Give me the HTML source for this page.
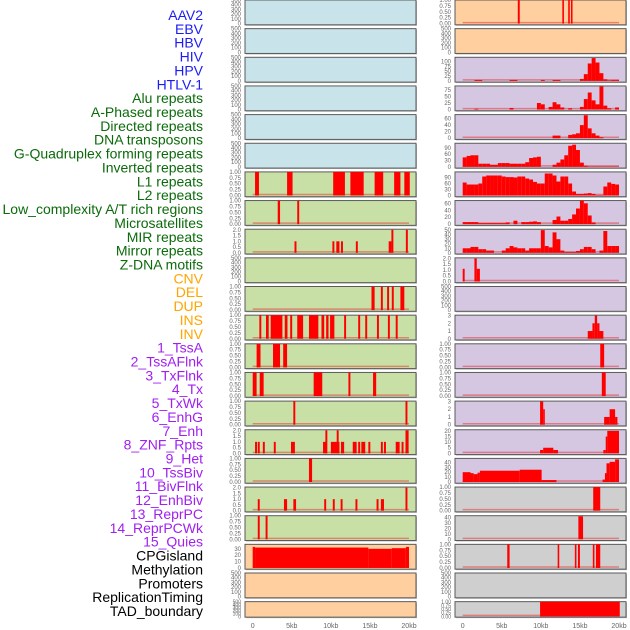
<!DOCTYPE html>
<html><head><meta charset="utf-8">
<style>
html,body{margin:0;padding:0;background:#fff;}
svg{display:block;font-family:"Liberation Sans",sans-serif;}
</style></head>
<body>
<svg id="chart" width="630" height="630" viewBox="0 0 630 630" xmlns="http://www.w3.org/2000/svg"></svg>
<script>
// ---------- data ----------
const trackLabels = ["AAV2","EBV","HBV","HIV","HPV","HTLV-1",
"Alu repeats","A-Phased repeats","Directed repeats","DNA transposons","G-Quadruplex forming repeats","Inverted repeats","L1 repeats","L2 repeats","Low_complexity A/T rich regions","Microsatellites","MIR repeats","Mirror repeats","Z-DNA motifs",
"CNV","DEL","DUP","INS","INV",
"1_TssA","2_TssAFlnk","3_TxFlnk","4_Tx","5_TxWk","6_EnhG","7_Enh","8_ZNF_Rpts","9_Het","10_TssBiv","11_BivFlnk","12_EnhBiv","13_ReprPC","14_ReprPCWk","15_Quies",
"CPGisland","Methylation","Promoters","ReplicationTiming","TAD_boundary"];
const labelGroups = [6,13,5,15,5];
const labelColors = ["#1c1cf5","#0b6b0b","#ffa500","#a020f0","#000000"];

const xTickValues = [0,5,10,15,20];
const xTickLabels = ["0","5kb","10kb","15kb","20kb"];

// y-axis ticks per panel (tick values) and top of axis
const leftTicks = ["E","E","E","E","E","E","U","U","T2","E","U","U","U","U","U","T2","U","T2","U","C30","E","E"];
const rightTicks = ["U","E","D100","D75","D60","D90","D90b","D60b","D50","T2","E","D3","U","U","D3","D20","D40","U","D40b","U","E","U"];

// event segments [startKb, endKb, value] for left column rows
const leftSegs = [[],[],[],[],[],[],
[[0.3,0.8,1],[4.4,5.1,1],[10.3,11.8,1],[12.5,14.2,1],[15.6,16.7,1],[18.1,18.9,1],[19.4,20.1,1]],
[[3.2,3.5,1],[5.7,5.95,1]],
[[5.35,5.6,1],[10.2,10.45,1],[10.7,11.1,1],[11.3,11.55,1],[13.2,13.45,1],[17.4,17.75,1],[17.75,18.0,2],[19.6,19.85,2]],
[],
[[15.2,15.6,1],[16.4,16.65,1],[17.2,17.45,1],[17.8,18.05,1],[18.9,19.4,1]],
[[0.85,1.1,1],[1.7,2.05,1],[2.3,3.8,1],[4.1,4.45,1],[4.8,5.05,1],[5.7,6.45,1],[7.2,8.4,1],[8.8,9.15,1],[9.4,9.7,1],[9.9,10.45,1],[11.7,11.95,1],[13.5,13.75,1],[14.4,14.65,1],[15.9,16.15,1],[17.3,17.55,1],[18.3,18.55,1]],
[[0.5,1.0,1],[2.6,3.5,1],[3.9,4.4,1]],
[[0,0.5,1],[0.9,1.4,1],[7.8,8.9,1],[12.25,12.5,1],[15.4,15.8,1]],
[[5.2,5.45,1],[19.55,19.8,1]],
[[0.3,0.55,1],[0.65,0.9,1],[1.3,1.55,1],[2.7,2.95,1],[4.9,5.4,1],[9.0,9.5,1],[9.3,9.55,2],[10.0,11.1,1],[10.75,11.0,2],[11.3,11.7,1],[12.8,13.3,1],[13.5,13.75,1],[13.9,14.4,1],[14.8,15.05,1],[16.4,16.65,1],[16.8,17.05,1],[18.3,18.8,1],[19.05,19.3,1],[19.55,19.95,2]],
[[7.2,7.6,1]],
[[0.65,0.9,1],[4.0,4.4,1],[5.2,5.55,1],[9.15,9.4,1],[10.25,10.5,1],[11.25,11.5,1],[13.15,13.4,1],[15.85,16.1,1],[16.4,16.8,1],[19.55,19.8,2]],
[[0.65,0.9,1],[1.65,1.9,1]],
[[0,0.3,33],[0.3,14.8,32],[14.8,17.8,30],[17.8,19.6,31],[19.6,20,33]],
[],[]];

// right column event segments (non-binned rows)
const rightSegs = {
 0:[[7.05,7.3,1],[12.75,12.95,1],[13.5,13.7,1],[13.85,14.05,1]],
 9:[[0,0.25,1.1],[1.5,1.8,2],[1.8,2.2,1.1]],
 11:[[16,16.6,1],[16.6,16.9,2],[16.9,17.2,3],[17.2,17.5,2],[17.5,18,1]],
 12:[[17.6,18.1,1]],
 13:[[17.8,18.3,1]],
 14:[[9.9,10.3,3],[10.3,10.5,2],[18.1,18.8,1],[18.8,19.5,2],[19.5,19.8,1]],
 15:[[9.9,10.3,3],[10.3,11.6,5],[11.6,12.2,3],[18.0,18.3,3],[18.3,18.5,15],[18.5,20,20]],
 16:[[0,1,20],[1,1.4,18],[1.4,1.9,16],[1.9,2.2,19],[2.2,7.3,23],[7.3,10.1,25],[10.1,12,4],[17.9,18.2,5],[18.2,18.4,18],[18.4,18.8,38],[18.8,19.5,41],[19.5,20,46]],
 17:[[16.7,17.6,1]],
 18:[[14.8,15.4,42]],
 19:[[5.7,6.0,1],[12.15,12.35,1],[14.35,14.55,1],[14.75,15.0,1],[16.65,16.85,1],[17.05,17.6,1]],
 21:[[9.9,20.1,1]]
};

// binned density rows (0.5 kb bins, 40 bins over 0-20 kb)
const rightBins = {
 2:[0,0,0,5,5,0,0,0,0,0,0,0,5,5,0,0,0,0,0,0,5,0,0,5,5,0,0,0,0,0,10,35,90,118,95,40,8,3,5,5],
 3:[0,0,0,3,0,0,0,0,0,0,0,0,6,0,0,0,0,0,0,25,20,0,10,28,20,8,0,5,0,0,10,40,65,35,20,88,15,5,0,8],
 4:[0,0,0,0,0,0,0,0,0,0,0,0,0,0,0,0,0,0,0,0,0,0,0,8,8,0,0,10,12,15,40,70,30,15,8,3,0,0,0,0],
 5:[45,52,55,55,15,15,15,10,10,18,18,18,15,15,15,15,22,42,45,48,0,0,0,10,20,35,55,100,105,80,20,5,2,2,2,2,2,2,2,2],
 6:[65,55,55,55,60,95,100,100,100,100,95,92,92,90,95,95,85,80,68,60,60,110,110,100,70,95,95,60,20,8,8,10,12,8,3,3,45,65,58,55],
 7:[6,6,6,6,3,3,3,3,3,3,3,5,0,10,0,6,6,7,8,6,0,0,0,12,22,10,10,15,28,45,68,60,25,5,0,0,0,0,0,0],
 8:[10,10,13,13,8,8,5,5,0,0,5,10,15,12,10,10,5,10,10,10,50,15,12,45,30,5,2,2,2,4,8,13,13,8,0,5,48,15,15,15]
};

// ---------- layout ----------
const NS = "http://www.w3.org/2000/svg";
const svg = document.getElementById("chart");
const leftBg = ["#c8e3ea","#c8e3ea","#c8e3ea","#c8e3ea","#c8e3ea","#c8e3ea","#c8e0a6","#c8e0a6","#c8e0a6","#c8e0a6","#c8e0a6","#c8e0a6","#c8e0a6","#c8e0a6","#c8e0a6","#c8e0a6","#c8e0a6","#c8e0a6","#c8e0a6","#ffcf9f","#ffcf9f","#ffcf9f"];
const rightBg = ["#ffcf9f","#ffcf9f","#d5c6e2","#d5c6e2","#d5c6e2","#d5c6e2","#d5c6e2","#d5c6e2","#d5c6e2","#d5c6e2","#d5c6e2","#d5c6e2","#d5c6e2","#d5c6e2","#d5c6e2","#d5c6e2","#d5c6e2","#cfcfcf","#cfcfcf","#cfcfcf","#cfcfcf","#cfcfcf"];

function mk(tag, attrs, parent){const e=document.createElementNS(NS,tag);for(const k in attrs)e.setAttribute(k,attrs[k]);(parent||svg).appendChild(e);return e;}
function xScale(kb,col){return 252.7 + kb*7.815 + col*210;}
function rowTop(r){return r*28.65;}
function rowH(r){return r===21?15.5:24.8;}
function tickSpec(t){
 switch(t){
  case "E": return {vals:[0,100,200,300,400,500],top:500,fmt:v=>String(v)};
  case "U": return {vals:[0,0.25,0.5,0.75,1],top:1,fmt:v=>v.toFixed(2)};
  case "T2": return {vals:[0,0.5,1,1.5,2],top:2.05,fmt:v=>v.toFixed(1)};
  case "C30": return {vals:[0,10,20,30],top:37,fmt:v=>String(v)};
  case "D100": return {vals:[0,25,50,75,100],top:122,fmt:v=>String(v)};
  case "D75": return {vals:[0,25,50,75],top:90,fmt:v=>String(v)};
  case "D60": return {vals:[0,20,40,60],top:72,fmt:v=>String(v)};
  case "D90": return {vals:[0,30,60,90],top:112,fmt:v=>String(v)};
  case "D90b": return {vals:[0,30,60,90],top:118,fmt:v=>String(v)};
  case "D60b": return {vals:[0,20,40,60],top:68,fmt:v=>String(v)};
  case "D50": return {vals:[0,10,20,30,40,50],top:52,fmt:v=>String(v)};
  case "D3": return {vals:[0,1,2,3],top:3.05,fmt:v=>String(v)};
  case "D20": return {vals:[0,5,10,15,20],top:21,fmt:v=>String(v)};
  case "D40": return {vals:[0,10,20,30,40],top:48,fmt:v=>String(v)};
  case "D40b": return {vals:[0,10,20,30,40],top:43,fmt:v=>String(v)};
 }
}

function drawPanel(col,r,bg,tick,segs){
 const x0 = col===0?245:455, w=171;
 const top=rowTop(r), h=rowH(r);
 const g=mk("g",{});
 
 
 mk("rect",{x:x0+1,y:top+1,width:w,height:h,fill:"#bbb"},g);
 const bgr=mk("rect",{x:x0,y:top,width:w,height:h,fill:bg,stroke:"#5a5a5a","stroke-width":1},g);
 
 
 const ts=tickSpec(tick);
 const ymin=-0.05*ts.top;
 const ys=v=>top+h-((v-ymin)/(ts.top-ymin))*h;
 ts.vals.forEach(v=>{
  const t=mk("text",{x:x0-4,y:ys(v)+2,"font-size":r===21?5:6,fill:"#666","text-anchor":"end"},g);
  t.textContent=ts.fmt(v);
  
  
 });
 if(segs.length){
  const bl=mk("line",{x1:xScale(0,col),x2:xScale(20,col),y1:ys(0)-1,y2:ys(0)-1,stroke:"rgba(230,60,60,0.55)","stroke-width":1.5},g);
  
  
 }
 segs.forEach(s=>{
  if(s[2]<=0)return;
  const xa=xScale(s[0],col), xb=xScale(s[1],col);
  const b=mk("rect",{x:xa,y:ys(s[2]),width:Math.max(xb-xa,1.6),height:ys(0)-ys(s[2]),fill:"#ff0000"},g);
  
  
 });
}

for(let r=0;r<22;r++){
 drawPanel(0,r,leftBg[r],leftTicks[r],leftSegs[r]);
 let segs=[];
 if(rightBins[r]){rightBins[r].forEach((v,i)=>segs.push([i*0.5,i*0.5+0.5,v]));}
 else if(rightSegs[r]){segs=rightSegs[r];}
 drawPanel(1,r,rightBg[r],rightTicks[r],segs);
}

// x-axis labels
[0,1].forEach(col=>{
 xTickValues.forEach((v,i)=>{
  const t=mk("text",{x:xScale(v,col),y:628,"font-size":7,fill:"#666","text-anchor":"middle"});
  t.textContent=xTickLabels[i];
  
  
 });
});

// track labels
let idx=0;
labelGroups.forEach((n,gi)=>{
 for(let k=0;k<n;k++){
  const t=mk("text",{x:203,y:15+idx*13.86+5,"font-size":14,fill:labelColors[gi],"text-anchor":"end"});
  t.textContent=trackLabels[idx];
  
  
  idx++;
 }
});
</script>
</body></html>
